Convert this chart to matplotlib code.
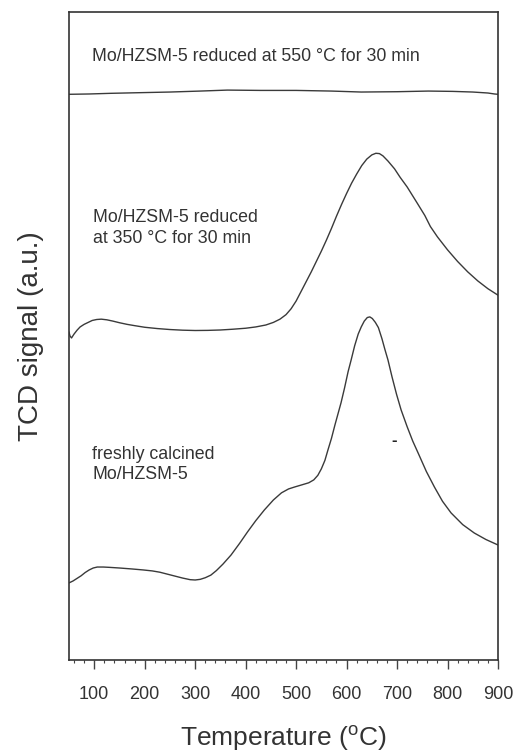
import matplotlib
matplotlib.use('Agg')
import matplotlib.pyplot as plt
from matplotlib.ticker import MultipleLocator

plt.rcParams['font.family'] = ['Liberation Sans', 'DejaVu Sans']
plt.rcParams['mathtext.fontset'] = 'custom'
plt.rcParams['mathtext.rm'] = 'Liberation Sans'

# TPR traces (temperature in degC, TCD signal in arbitrary units)
temp_550 = [50, 90, 132, 190, 250, 310, 364, 430, 500, 570, 629, 700, 762,
            810, 850, 880, 893, 900]
tcd_550 = [87.3, 87.35, 87.45, 87.55, 87.65, 87.8, 87.95, 87.9, 87.9, 87.8,
           87.65, 87.7, 87.8, 87.75, 87.65, 87.5, 87.35, 87.3]

temp_350 = [50, 52, 55, 60, 66, 72, 80, 88, 96, 105, 114, 125, 137, 150, 165,
            180, 200, 225, 250, 275, 300, 325, 350, 375, 400, 420, 440, 455,
            468, 480, 490, 500, 510, 520, 530, 540, 550, 560, 570, 580, 590,
            600, 610, 620, 630, 640, 650, 658, 665, 672, 682, 695, 706, 720,
            740, 755, 766, 780, 800, 820, 840, 860, 880, 900]
tcd_350 = [50.6, 50.0, 49.7, 50.3, 50.9, 51.4, 51.8, 52.1, 52.4, 52.55, 52.6,
           52.5, 52.3, 52.05, 51.8, 51.6, 51.35, 51.15, 51.0, 50.9, 50.85,
           50.87, 50.93, 51.05, 51.2, 51.4, 51.7, 52.1, 52.6, 53.3, 54.2,
           55.4, 56.9, 58.4, 59.9, 61.5, 63.1, 64.8, 66.6, 68.5, 70.3, 72.0,
           73.6, 75.0, 76.3, 77.3, 77.95, 78.2, 78.15, 77.8, 77.0, 75.8, 74.5,
           73.0, 70.5, 68.6, 66.9, 65.3, 63.3, 61.5, 59.9, 58.5, 57.3, 56.3]

temp_fresh = [50, 58, 66, 74, 82, 90, 98, 106, 118, 130, 150, 175, 197, 215,
              230, 245, 260, 275, 290, 300, 310, 320, 331, 342, 355, 371, 388,
              404, 420, 437, 455, 471, 485, 497, 510, 525, 535, 543, 550, 557,
              563, 570, 577, 583, 589, 596, 603, 609, 616, 623, 629, 635, 641,
              646, 651, 657, 663, 670, 676, 682, 690, 699, 708, 720, 731, 742,
              758, 774, 790, 807, 830, 853, 876, 900]
tcd_fresh = [11.9, 12.2, 12.6, 13.0, 13.5, 13.9, 14.2, 14.35, 14.35, 14.3,
             14.2, 14.05, 13.9, 13.75, 13.55, 13.25, 12.95, 12.65, 12.4,
             12.35, 12.45, 12.7, 13.1, 13.8, 14.8, 16.2, 18.0, 19.8, 21.5,
             23.15, 24.7, 25.8, 26.4, 26.7, 27.0, 27.35, 27.8, 28.5, 29.5,
             30.8, 32.4, 34.2, 36.3, 38.0, 39.7, 42.0, 44.5, 46.3, 48.5, 50.3,
             51.4, 52.3, 52.85, 52.95, 52.7, 52.1, 51.3, 49.6, 47.9, 46.3,
             43.7, 41.0, 38.6, 36.0, 33.8, 31.9, 29.1, 26.7, 24.5, 22.7, 20.9,
             19.6, 18.6, 17.75]

xticks = [100, 200, 300, 400, 500, 600, 700, 800, 900]

fig = plt.figure(figsize=(5.18, 7.55), dpi=100)
ax = fig.add_axes([0.1332, 0.1258, 0.8282, 0.8583])

line_kw = dict(color='#3a3a3a', lw=1.0)
ax.plot(temp_550, tcd_550, **line_kw)
ax.plot(temp_350, tcd_350, **line_kw)
ax.plot(temp_fresh, tcd_fresh, **line_kw)

txt_kw = dict(fontsize=12.8, color='#333333', va='baseline', ha='left')
ax.text(96, 92.4, 'Mo/HZSM-5 reduced at 550 \u00b0C for 30 min', **txt_kw)
ax.text(97, 64.3, 'Mo/HZSM-5 reduced\nat 350 \u00b0C for 30 min',
        linespacing=1.3, **txt_kw)
ax.text(96, 28.0, 'freshly calcined\nMo/HZSM-5', linespacing=1.2, **txt_kw)
ax.text(695, 33.9, '-', fontsize=12, fontweight='bold', color='#222222',
        ha='center', va='center')

ax.set_xlim(50, 900)
ax.set_ylim(0, 100)
ax.set_xticks(xticks)
ax.xaxis.set_minor_locator(MultipleLocator(20))
ax.set_yticks([])
ax.tick_params(axis='x', which='major', direction='out', length=6.5,
               width=1.0, color='#444444', labelsize=13,
               labelcolor='#333333', pad=12)
ax.tick_params(axis='x', which='minor', direction='out', length=2,
               width=0.8, color='#444444')
for s in ax.spines.values():
    s.set_color('#333333')
    s.set_linewidth(1.2)

ax.set_xlabel('Temperature ($^{\\rm o}$C)', fontsize=19, color='#333333',
              labelpad=15)
ax.set_ylabel('TCD signal (a.u.)', fontsize=20, color='#333333', labelpad=18)

fig.savefig('out.png', dpi=100)
